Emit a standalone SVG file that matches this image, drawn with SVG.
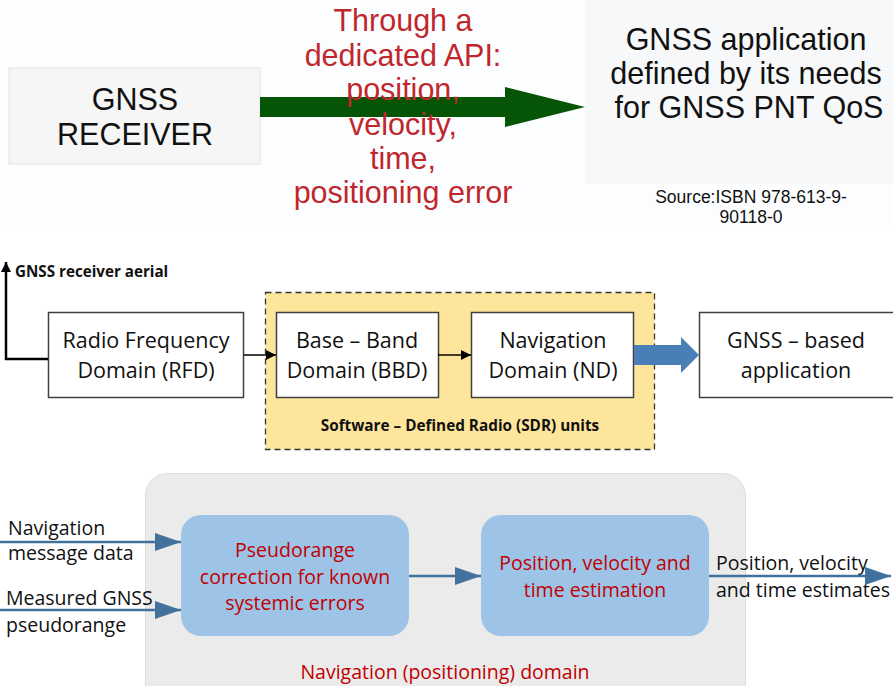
<svg xmlns="http://www.w3.org/2000/svg" width="893" height="686" viewBox="0 0 893 686">
<defs>
<style>
.arial{font-family:"Liberation Sans",Arial,sans-serif}
.cal{font-family:"Open Sans","Liberation Sans",sans-serif}
.big{font-size:30.5px;fill:#111;text-anchor:middle}
.red{font-size:30.5px;fill:#c0272d;text-anchor:middle}
.box{fill:#fff;stroke:#404040;stroke-width:1.5}
.mid{font-size:21.5px;fill:#111;text-anchor:middle}
.blue{fill:#9dc3e6}
.redsm{font-size:19.5px;fill:#c00000;text-anchor:middle}
.blk{font-size:19.5px;fill:#111}
.bl{stroke:#41719c;stroke-width:2.5;fill:none}
.k{stroke:#000;stroke-width:1.5;fill:none}
.k2{stroke:#000;stroke-width:2.5;fill:none}
</style>
<marker id="ak" viewBox="0 0 10 10" refX="10" refY="5" markerWidth="12" markerHeight="10" markerUnits="userSpaceOnUse" orient="auto"><path d="M0,0 L10,5 L0,10 z" fill="#000"/></marker>
<marker id="ab" viewBox="0 0 10 10" refX="10" refY="5" markerWidth="26" markerHeight="18" markerUnits="userSpaceOnUse" orient="auto" preserveAspectRatio="none"><path d="M0,0 L10,5 L0,10 z" fill="#41719c"/></marker>
</defs>
<rect width="893" height="686" fill="#fff"/>
<rect x="0" y="0" width="893" height="230" fill="#fcfdfe"/>
<rect x="585" y="0" width="308" height="184" fill="#f7f8fa"/>

<g id="top-receiver">
<rect x="9" y="68" width="251" height="96" fill="#f6f6f6" stroke="#f0dede" stroke-width="1"/>
<text class="arial big" x="135" y="110">GNSS</text>
<text class="arial big" x="135" y="145">RECEIVER</text>
</g>
<g id="top-app">
<text class="arial big" x="746" y="50">GNSS application</text>
<text class="arial big" x="746" y="84">defined by its needs</text>
<text class="arial big" x="749" y="118">for GNSS PNT QoS</text>
</g>
<g id="connectors-top">
<path d="M260,97 H505 V87 L585,107 L505,127 V117 H260 z" fill="#065406"/>
<g id="api-label">
<text class="arial red" x="403" y="31">Through a</text>
<text class="arial red" x="403" y="66">dedicated API:</text>
<text class="arial red" x="403" y="100">position,</text>
<text class="arial red" x="403" y="135">velocity,</text>
<text class="arial red" x="403" y="169">time,</text>
<text class="arial red" x="403" y="203">positioning error</text>
</g>
</g>
<g id="source">
<text class="arial" x="751" y="203" font-size="17.5" fill="#111" text-anchor="middle">Source:ISBN 978-613-9-</text>
<text class="arial" x="751" y="223" font-size="17.5" fill="#111" text-anchor="middle">90118-0</text>
</g>

<g id="sdr">
<rect x="265.5" y="292.5" width="389" height="157" fill="#fde59c" stroke="#333" stroke-width="1.3" stroke-dasharray="6,4"/>
<text class="cal" x="460" y="431" font-size="15.3" font-weight="bold" fill="#111" text-anchor="middle">Software – Defined Radio (SDR) units</text>
</g>
<g id="rfd">
<rect class="box" x="48.5" y="312.5" width="195" height="85"/>
<text class="cal mid" x="146" y="348">Radio Frequency</text>
<text class="cal mid" x="146" y="378">Domain (RFD)</text>
</g>
<g id="bbd">
<rect class="box" x="276.5" y="312.5" width="162" height="85"/>
<text class="cal mid" x="357" y="348">Base – Band</text>
<text class="cal mid" x="357" y="378">Domain (BBD)</text>
</g>
<g id="nd">
<rect class="box" x="471.5" y="312.5" width="162" height="85"/>
<text class="cal mid" x="553" y="348">Navigation</text>
<text class="cal mid" x="553" y="378">Domain (ND)</text>
</g>
<g id="gnss-app">
<rect class="box" x="699.5" y="312.5" width="200" height="85"/>
<text class="cal mid" x="796" y="348">GNSS – based</text>
<text class="cal mid" x="796" y="378">application</text>
</g>
<g id="aerial-label">
<text class="cal" x="15" y="277" font-size="15.2" font-weight="bold" fill="#111">GNSS receiver aerial</text>
</g>
<g id="connectors-mid">
<path class="k2" d="M48,359 H6 V262" marker-end="url(#ak)"/>
<path class="k" d="M244,355 H276" marker-end="url(#ak)"/>
<path class="k" d="M438,355 H471" marker-end="url(#ak)"/>
<path d="M634,345 H681 V337 L699,355 L681,373 V365 H634 z" fill="#4a7eb6"/>
</g>

<g id="nav-domain">
<rect x="145.5" y="473.5" width="600" height="240" rx="22" fill="#ebebeb" stroke="#dedede"/>
<text class="cal" x="445" y="679" font-size="19.5" fill="#c00000" text-anchor="middle">Navigation (positioning) domain</text>
</g>
<g id="pseudorange">
<rect class="blue" x="181" y="515" width="228" height="121" rx="20"/>
<text class="cal redsm" x="295" y="557">Pseudorange</text>
<text class="cal redsm" x="295" y="584">correction for known</text>
<text class="cal redsm" x="295" y="610">systemic errors</text>
</g>
<g id="pvt">
<rect class="blue" x="481" y="515" width="228" height="121" rx="20"/>
<text class="cal redsm" x="595" y="570">Position, velocity and</text>
<text class="cal redsm" x="595" y="597">time estimation</text>
</g>
<g id="labels-bottom">
<text class="cal blk" x="8" y="535">Navigation</text>
<text class="cal blk" x="8" y="560">message data</text>
<text class="cal blk" x="6" y="605">Measured GNSS</text>
<text class="cal blk" x="6" y="632">pseudorange</text>
<text class="cal blk" x="716" y="570">Position, velocity</text>
<text class="cal blk" x="716" y="597">and time estimates</text>
</g>
<g id="connectors-bottom">
<path class="bl" d="M0,542 H181" marker-end="url(#ab)"/>
<path class="bl" d="M0,610 H181" marker-end="url(#ab)"/>
<path class="bl" d="M409,576 H481" marker-end="url(#ab)"/>
<path class="bl" d="M709,576 H891" marker-end="url(#ab)"/>
</g>
</svg>
